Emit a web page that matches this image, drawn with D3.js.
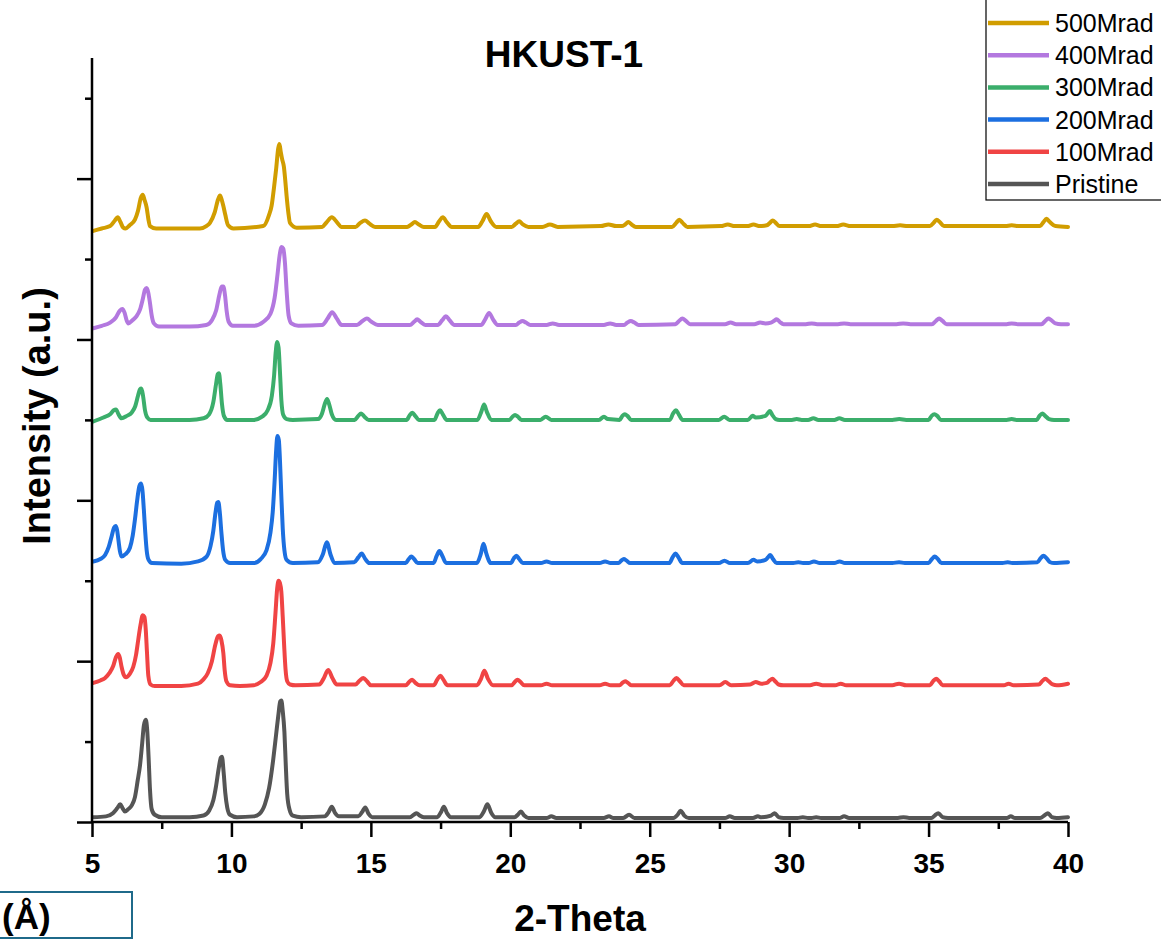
<!DOCTYPE html>
<html>
<head>
<meta charset="utf-8">
<script src="https://cdn.jsdelivr.net/npm/d3@7"></script>
<style>
  body { margin: 0; background: #fff; }
  svg { display: block; font-family: "Liberation Sans", Arial, sans-serif; }
</style>
</head>
<body>
<svg id="chart" width="1161" height="940"></svg>
<script>
// XRD patterns of HKUST-1 after gamma irradiation, stacked with vertical offsets.
// Each pattern: [2-theta (deg), intensity (a.u., offset)]
const pristine = [[5.04,0.06],[5.5,0.07],[5.75,0.11],[5.9,0.17],[6.01,0.22],[6.1,0.17],[6.18,0.13],[6.3,0.16],[6.43,0.21],[6.54,0.31],[6.64,0.52],[6.72,0.70],[6.80,0.98],[6.86,1.20],[6.93,1.27],[6.98,1.14],[7.03,0.80],[7.08,0.40],[7.14,0.16],[7.25,0.09],[7.5,0.06],[8.5,0.06],[9.0,0.08],[9.2,0.14],[9.35,0.27],[9.45,0.45],[9.55,0.68],[9.62,0.80],[9.66,0.81],[9.72,0.62],[9.78,0.36],[9.85,0.18],[9.95,0.09],[10.2,0.06],[10.8,0.07],[11.0,0.10],[11.2,0.22],[11.35,0.42],[11.5,0.78],[11.6,1.08],[11.68,1.32],[11.75,1.50],[11.79,1.51],[11.84,1.38],[11.9,1.12],[11.95,0.70],[12.0,0.35],[12.08,0.16],[12.2,0.08],[12.5,0.06],[13.35,0.07],[13.48,0.12],[13.6,0.19],[13.72,0.11],[13.85,0.07],[14.55,0.07],[14.68,0.12],[14.8,0.18],[14.92,0.10],[15.05,0.06],[16.4,0.06],[16.54,0.09],[16.64,0.11],[16.75,0.08],[16.9,0.06],[17.38,0.06],[17.51,0.12],[17.62,0.19],[17.73,0.11],[17.87,0.06],[18.9,0.06],[19.05,0.13],[19.18,0.22],[19.31,0.12],[19.46,0.06],[20.15,0.06],[20.27,0.09],[20.38,0.13],[20.5,0.08],[20.65,0.05],[21.3,0.05],[21.47,0.07],[21.65,0.05],[23.35,0.05],[23.54,0.07],[23.7,0.05],[24.05,0.05],[24.26,0.09],[24.45,0.05],[25.85,0.05],[26.0,0.09],[26.11,0.14],[26.24,0.08],[26.4,0.05],[27.7,0.05],[27.87,0.07],[28.05,0.05],[28.7,0.05],[28.88,0.07],[29.0,0.06],[29.35,0.08],[29.48,0.11],[29.62,0.06],[29.8,0.05],[30.3,0.05],[30.49,0.06],[30.68,0.05],[30.8,0.05],[30.97,0.06],[31.15,0.05],[31.8,0.05],[31.97,0.07],[32.15,0.05],[33.9,0.05],[34.1,0.06],[34.3,0.05],[35.1,0.05],[35.22,0.08],[35.35,0.11],[35.5,0.06],[35.7,0.05],[37.8,0.05],[37.95,0.07],[38.1,0.05],[39.0,0.05],[39.15,0.08],[39.28,0.11],[39.42,0.06],[39.6,0.05],[40,0.06]];

const mrad100 = [[5.05,1.73],[5.3,1.76],[5.47,1.79],[5.62,1.85],[5.76,1.94],[5.86,2.05],[5.94,2.09],[6.0,2.04],[6.06,1.93],[6.14,1.83],[6.22,1.80],[6.35,1.84],[6.48,1.93],[6.58,2.08],[6.66,2.27],[6.74,2.45],[6.82,2.57],[6.88,2.55],[6.93,2.38],[6.97,2.12],[7.02,1.82],[7.1,1.71],[7.25,1.69],[8.2,1.69],[8.8,1.72],[8.99,1.77],[9.15,1.85],[9.3,2.0],[9.42,2.2],[9.52,2.31],[9.58,2.32],[9.64,2.26],[9.71,2.1],[9.76,1.88],[9.82,1.75],[9.95,1.70],[10.3,1.69],[10.8,1.70],[11.05,1.74],[11.26,1.82],[11.4,1.98],[11.5,2.22],[11.58,2.6],[11.64,2.9],[11.69,3.0],[11.74,2.97],[11.79,2.86],[11.84,2.55],[11.89,2.2],[11.94,1.9],[12.0,1.75],[12.1,1.71],[12.3,1.70],[13.15,1.71],[13.3,1.78],[13.47,1.89],[13.62,1.79],[13.78,1.71],[14.45,1.71],[14.6,1.76],[14.73,1.79],[14.86,1.75],[15.0,1.70],[16.25,1.70],[16.37,1.74],[16.48,1.77],[16.6,1.73],[16.75,1.70],[17.25,1.70],[17.38,1.77],[17.49,1.82],[17.6,1.77],[17.75,1.70],[18.8,1.70],[18.95,1.78],[19.07,1.88],[19.2,1.78],[19.38,1.70],[20.05,1.70],[20.16,1.74],[20.26,1.77],[20.37,1.74],[20.5,1.70],[21.1,1.70],[21.3,1.72],[21.5,1.70],[23.2,1.70],[23.4,1.72],[23.6,1.70],[23.92,1.70],[24.02,1.73],[24.12,1.75],[24.22,1.73],[24.35,1.70],[25.72,1.70],[25.84,1.75],[25.96,1.79],[26.08,1.75],[26.22,1.70],[27.5,1.70],[27.71,1.74],[27.92,1.70],[28.6,1.71],[28.8,1.74],[29.0,1.72],[29.2,1.73],[29.3,1.76],[29.4,1.78],[29.5,1.75],[29.62,1.71],[29.8,1.70],[30.75,1.70],[30.97,1.72],[31.2,1.70],[31.65,1.70],[31.85,1.72],[32.05,1.70],[33.7,1.70],[33.94,1.72],[34.2,1.70],[35.05,1.70],[35.16,1.75],[35.27,1.78],[35.38,1.75],[35.5,1.70],[37.7,1.70],[37.87,1.72],[38.05,1.70],[38.95,1.71],[39.07,1.75],[39.19,1.78],[39.31,1.75],[39.45,1.71],[39.6,1.70],[40,1.72]];

const mrad200 = [[5.05,3.24],[5.3,3.27],[5.47,3.32],[5.6,3.42],[5.71,3.56],[5.79,3.66],[5.85,3.68],[5.9,3.63],[5.95,3.50],[6.0,3.37],[6.06,3.30],[6.2,3.33],[6.36,3.41],[6.46,3.56],[6.54,3.76],[6.62,4.0],[6.7,4.18],[6.76,4.21],[6.81,4.12],[6.86,3.88],[6.91,3.6],[6.96,3.38],[7.03,3.26],[7.15,3.22],[8.2,3.21],[8.8,3.24],[9.11,3.30],[9.25,3.43],[9.35,3.62],[9.43,3.85],[9.49,3.97],[9.53,3.98],[9.58,3.86],[9.64,3.6],[9.7,3.38],[9.78,3.26],[9.95,3.22],[10.8,3.22],[11.05,3.27],[11.26,3.38],[11.4,3.6],[11.48,3.85],[11.55,4.25],[11.6,4.6],[11.65,4.80],[11.7,4.75],[11.74,4.5],[11.79,4.05],[11.84,3.65],[11.9,3.38],[11.98,3.26],[12.2,3.22],[13.1,3.23],[13.28,3.33],[13.42,3.48],[13.55,3.33],[13.7,3.22],[14.4,3.23],[14.55,3.29],[14.67,3.34],[14.8,3.27],[14.95,3.22],[16.25,3.22],[16.36,3.27],[16.45,3.30],[16.55,3.27],[16.68,3.22],[17.25,3.22],[17.36,3.31],[17.46,3.37],[17.56,3.31],[17.7,3.22],[18.8,3.22],[18.94,3.33],[19.04,3.46],[19.14,3.34],[19.3,3.22],[20.02,3.22],[20.13,3.28],[20.22,3.31],[20.32,3.27],[20.45,3.22],[21.1,3.22],[21.3,3.24],[21.5,3.22],[23.2,3.22],[23.4,3.24],[23.6,3.22],[23.88,3.22],[23.98,3.25],[24.07,3.27],[24.17,3.25],[24.3,3.22],[25.7,3.22],[25.82,3.29],[25.92,3.34],[26.03,3.29],[26.17,3.22],[27.48,3.22],[27.68,3.25],[27.88,3.22],[28.52,3.22],[28.72,3.26],[28.85,3.24],[29.15,3.26],[29.24,3.29],[29.32,3.32],[29.42,3.27],[29.55,3.22],[29.7,3.22],[30.15,3.22],[30.33,3.23],[30.5,3.22],[30.7,3.22],[30.89,3.24],[31.1,3.22],[31.62,3.22],[31.81,3.24],[32.0,3.22],[33.7,3.22],[33.94,3.23],[34.15,3.22],[35.0,3.22],[35.12,3.27],[35.22,3.30],[35.33,3.27],[35.46,3.22],[37.65,3.22],[37.84,3.23],[38.0,3.22],[38.9,3.23],[39.02,3.28],[39.12,3.31],[39.23,3.28],[39.36,3.23],[39.5,3.22],[40,3.23]];

const mrad300 = [[5.05,4.98],[5.41,5.03],[5.65,5.07],[5.78,5.12],[5.86,5.13],[5.95,5.07],[6.06,5.02],[6.25,5.05],[6.42,5.09],[6.55,5.17],[6.65,5.3],[6.72,5.38],[6.77,5.39],[6.83,5.3],[6.9,5.12],[6.98,5.03],[7.1,5.0],[8.5,5.0],[9.0,5.02],[9.2,5.07],[9.35,5.22],[9.45,5.45],[9.51,5.57],[9.55,5.58],[9.6,5.45],[9.66,5.2],[9.73,5.05],[9.85,5.0],[10.8,5.0],[11.1,5.04],[11.3,5.12],[11.45,5.3],[11.53,5.55],[11.59,5.85],[11.64,5.97],[11.69,5.9],[11.74,5.6],[11.79,5.25],[11.86,5.06],[11.98,5.01],[12.2,5.0],[13.1,5.01],[13.25,5.08],[13.35,5.2],[13.43,5.26],[13.5,5.2],[13.6,5.07],[13.75,5.0],[14.42,5.0],[14.55,5.05],[14.65,5.08],[14.77,5.04],[14.92,5.0],[16.28,5.0],[16.4,5.06],[16.49,5.09],[16.59,5.05],[16.72,5.0],[17.28,5.0],[17.39,5.08],[17.48,5.12],[17.58,5.07],[17.72,5.0],[18.82,5.0],[18.96,5.1],[19.06,5.19],[19.16,5.1],[19.32,5.0],[19.97,5.0],[20.08,5.04],[20.17,5.06],[20.27,5.04],[20.4,5.0],[21.08,5.0],[21.27,5.04],[21.47,5.0],[23.18,5.0],[23.36,5.04],[23.5,5.01],[23.92,5.0],[24.02,5.05],[24.11,5.07],[24.2,5.05],[24.33,5.0],[25.72,5.0],[25.84,5.08],[25.94,5.12],[26.04,5.07],[26.18,5.0],[27.48,5.0],[27.67,5.04],[27.86,5.0],[28.52,5.0],[28.69,5.05],[28.8,5.03],[29.15,5.05],[29.23,5.08],[29.31,5.11],[29.4,5.06],[29.52,5.01],[29.65,5.0],[30.1,5.0],[30.27,5.01],[30.45,5.0],[30.68,5.0],[30.87,5.02],[31.05,5.0],[31.62,5.0],[31.8,5.02],[32.0,5.0],[33.7,5.0],[33.95,5.01],[34.2,5.0],[35.0,5.0],[35.11,5.05],[35.21,5.07],[35.31,5.05],[35.44,5.0],[37.8,5.0],[37.98,5.01],[38.15,5.0],[38.88,5.0],[38.98,5.05],[39.08,5.08],[39.18,5.05],[39.32,5.01],[39.5,5.0],[40,5.0]];

const mrad400 = [[5.05,6.14],[5.35,6.17],[5.65,6.21],[5.85,6.27],[6.0,6.36],[6.09,6.38],[6.17,6.33],[6.24,6.24],[6.3,6.2],[6.45,6.24],[6.6,6.29],[6.72,6.37],[6.82,6.5],[6.9,6.62],[6.96,6.64],[7.02,6.58],[7.08,6.45],[7.14,6.3],[7.22,6.2],[7.4,6.16],[8.5,6.16],[9.1,6.18],[9.3,6.24],[9.45,6.36],[9.57,6.56],[9.65,6.66],[9.71,6.66],[9.77,6.55],[9.83,6.35],[9.9,6.22],[10.05,6.17],[10.8,6.17],[11.15,6.22],[11.4,6.32],[11.55,6.52],[11.65,6.8],[11.73,7.05],[11.8,7.15],[11.86,7.13],[11.92,6.95],[11.98,6.6],[12.05,6.3],[12.15,6.2],[12.4,6.17],[13.25,6.18],[13.45,6.26],[13.61,6.34],[13.78,6.26],[13.95,6.18],[14.5,6.18],[14.7,6.23],[14.86,6.26],[15.02,6.22],[15.25,6.18],[16.4,6.18],[16.55,6.22],[16.66,6.25],[16.78,6.22],[16.95,6.18],[17.4,6.18],[17.56,6.24],[17.69,6.29],[17.82,6.24],[18.0,6.18],[18.95,6.18],[19.1,6.25],[19.24,6.33],[19.38,6.25],[19.55,6.18],[20.2,6.18],[20.32,6.21],[20.44,6.23],[20.56,6.21],[20.72,6.18],[21.3,6.18],[21.52,6.2],[21.75,6.18],[23.35,6.18],[23.58,6.2],[23.8,6.18],[24.08,6.18],[24.2,6.21],[24.32,6.23],[24.45,6.21],[24.6,6.18],[25.92,6.19],[26.05,6.23],[26.17,6.26],[26.3,6.23],[26.45,6.19],[27.7,6.19],[27.9,6.21],[28.1,6.19],[28.75,6.19],[28.96,6.21],[29.15,6.2],[29.35,6.21],[29.45,6.23],[29.55,6.25],[29.66,6.22],[29.8,6.19],[30.6,6.19],[30.81,6.2],[31.0,6.19],[31.75,6.19],[31.97,6.2],[32.2,6.19],[33.85,6.19],[34.09,6.2],[34.35,6.19],[35.12,6.19],[35.26,6.23],[35.38,6.26],[35.5,6.23],[35.65,6.19],[37.8,6.19],[37.98,6.2],[38.2,6.19],[39.05,6.19],[39.18,6.23],[39.29,6.26],[39.4,6.24],[39.55,6.2],[39.75,6.19],[40,6.19]];

const mrad500 = [[5.05,7.35],[5.35,7.38],[5.65,7.41],[5.82,7.48],[5.92,7.52],[6.02,7.46],[6.12,7.39],[6.2,7.38],[6.35,7.42],[6.54,7.49],[6.65,7.6],[6.75,7.76],[6.82,7.80],[6.88,7.74],[6.96,7.64],[7.02,7.5],[7.08,7.41],[7.3,7.38],[8.87,7.38],[9.1,7.41],[9.23,7.45],[9.4,7.58],[9.52,7.74],[9.59,7.79],[9.65,7.74],[9.71,7.66],[9.78,7.55],[9.88,7.42],[10.07,7.38],[11.14,7.41],[11.35,7.55],[11.44,7.66],[11.53,7.9],[11.6,8.11],[11.68,8.38],[11.72,8.43],[11.77,8.33],[11.82,8.24],[11.88,8.15],[11.93,7.98],[11.98,7.78],[12.04,7.58],[12.1,7.45],[12.34,7.39],[13.25,7.40],[13.42,7.46],[13.6,7.52],[13.78,7.46],[13.95,7.40],[14.45,7.40],[14.62,7.45],[14.79,7.48],[14.95,7.44],[15.15,7.40],[16.3,7.40],[16.45,7.43],[16.58,7.46],[16.72,7.43],[16.9,7.40],[17.3,7.40],[17.45,7.47],[17.58,7.52],[17.72,7.46],[17.9,7.40],[18.85,7.40],[19.0,7.47],[19.15,7.56],[19.3,7.47],[19.5,7.40],[20.05,7.40],[20.2,7.44],[20.32,7.47],[20.45,7.43],[20.65,7.40],[21.15,7.40],[21.42,7.43],[21.7,7.40],[23.25,7.41],[23.52,7.43],[23.8,7.41],[24.0,7.41],[24.12,7.43],[24.23,7.46],[24.35,7.43],[24.5,7.40],[25.8,7.40],[25.95,7.45],[26.06,7.49],[26.18,7.45],[26.35,7.40],[27.55,7.41],[27.8,7.43],[28.05,7.41],[28.5,7.41],[28.72,7.43],[28.95,7.41],[29.2,7.42],[29.31,7.45],[29.41,7.48],[29.52,7.45],[29.65,7.41],[30.7,7.41],[30.93,7.43],[31.15,7.41],[31.7,7.41],[31.94,7.43],[32.2,7.41],[33.7,7.41],[33.98,7.42],[34.25,7.41],[35.05,7.41],[35.18,7.45],[35.29,7.49],[35.4,7.46],[35.55,7.41],[37.75,7.41],[37.98,7.42],[38.25,7.41],[39.0,7.41],[39.12,7.46],[39.23,7.50],[39.35,7.46],[39.55,7.41],[40,7.40]];

const seriesNames = ["Pristine", "100Mrad", "200Mrad", "300Mrad", "400Mrad", "500Mrad"];
const seriesData = [pristine, mrad100, mrad200, mrad300, mrad400, mrad500];
const seriesColors = ["#555555", "#F04444", "#1C6FE0", "#3BAE6B", "#B378DF", "#D19D00"];

const xMajorTicks = [5, 10, 15, 20, 25, 30, 35, 40];
const xMinorTicks = [7.5, 12.5, 17.5, 22.5, 27.5, 32.5, 37.5];
const yMajorTicks = [0, 2, 4, 6, 8];
const yMinorTicks = [1, 3, 5, 7, 9];

const svg = d3.select("#chart");
const x = d3.scaleLinear().domain([5, 40]).range([92, 1068]);
const y = d3.scaleLinear().domain([0, 9.5]).range([822, 58]);

// Patterns
const line = d3.line()
  .x(d => x(d[0]))
  .y(d => y(d[1]))
  .curve(d3.curveMonotoneX);

svg.append("g").selectAll("path")
  .data(seriesData)
  .join("path")
  .attr("d", line)
  .attr("fill", "none")
  .attr("stroke", (d, i) => seriesColors[i])
  .attr("stroke-width", 4)
  .attr("stroke-linejoin", "round")
  .attr("stroke-linecap", "round");

// Axes
function styleAxis(g) {
  g.select(".domain").remove();
  g.selectAll(".tick line").attr("stroke", "#000").attr("stroke-width", 2.5);
}

svg.append("g")
  .attr("transform", "translate(0,822)")
  .call(d3.axisBottom(x).tickValues(xMajorTicks).tickSize(15).tickPadding(16).tickFormat(d3.format("d")))
  .call(styleAxis)
  .call(g => g.selectAll("text")
    .attr("fill", "#000")
    .style("font-family", "'Liberation Sans', Arial, sans-serif")
    .style("font-size", "28px")
    .style("font-weight", "bold"));

svg.append("g")
  .attr("transform", "translate(0,822)")
  .call(d3.axisBottom(x).tickValues(xMinorTicks).tickSize(7).tickFormat(""))
  .call(styleAxis);

svg.append("g")
  .attr("transform", "translate(92,0)")
  .call(d3.axisLeft(y).tickValues(yMajorTicks).tickSize(15).tickFormat(""))
  .call(styleAxis);

svg.append("g")
  .attr("transform", "translate(92,0)")
  .call(d3.axisLeft(y).tickValues(yMinorTicks).tickSize(7).tickFormat(""))
  .call(styleAxis);

// Axis lines
svg.append("line")
  .attr("x1", x(5)).attr("x2", x(40))
  .attr("y1", y(0)).attr("y2", y(0))
  .attr("stroke", "#000").attr("stroke-width", 2.5);
svg.append("line")
  .attr("x1", x(5)).attr("x2", x(5))
  .attr("y1", y(9.5)).attr("y2", y(0))
  .attr("stroke", "#000").attr("stroke-width", 2.5);

// Titles
svg.append("text")
  .attr("x", 564).attr("y", 67)
  .attr("text-anchor", "middle")
  .style("font-size", "37px").style("font-weight", "bold")
  .text("HKUST-1");

svg.append("text")
  .attr("x", 580).attr("y", 931)
  .attr("text-anchor", "middle")
  .style("font-size", "37px").style("font-weight", "bold")
  .text("2-Theta");

svg.append("text")
  .attr("transform", "translate(50,416) rotate(-90)")
  .attr("text-anchor", "middle")
  .style("font-size", "38px").style("font-weight", "bold")
  .text("Intensity (a.u.)");

// Small boxed unit label at bottom left
svg.append("rect")
  .attr("x", -2).attr("y", 892)
  .attr("width", 134).attr("height", 46)
  .attr("fill", "none")
  .attr("stroke", "#1F6A8A").attr("stroke-width", 2);
svg.append("text")
  .attr("x", 2).attr("y", 929)
  .style("font-size", "35px").style("font-weight", "bold")
  .text("(Å)");

// Legend (top item is the highest dose)
const legend = svg.append("g");
legend.append("rect")
  .attr("x", 986).attr("y", -5)
  .attr("width", 200).attr("height", 205)
  .attr("fill", "#fff")
  .attr("stroke", "#000").attr("stroke-width", 1.2);

const legendOrder = d3.range(seriesNames.length).reverse();
const legendY = d3.scalePoint().domain(legendOrder).range([23, 184]);
const items = legend.selectAll("g.item")
  .data(legendOrder)
  .join("g")
  .attr("class", "item")
  .attr("transform", i => `translate(0,${legendY(i)})`);
items.append("line")
  .attr("x1", 988).attr("x2", 1049)
  .attr("stroke", i => seriesColors[i])
  .attr("stroke-width", 4.5);
items.append("text")
  .attr("x", 1055).attr("y", 9)
  .style("font-size", "25px")
  .text(i => seriesNames[i]);
</script>
</body>
</html>
